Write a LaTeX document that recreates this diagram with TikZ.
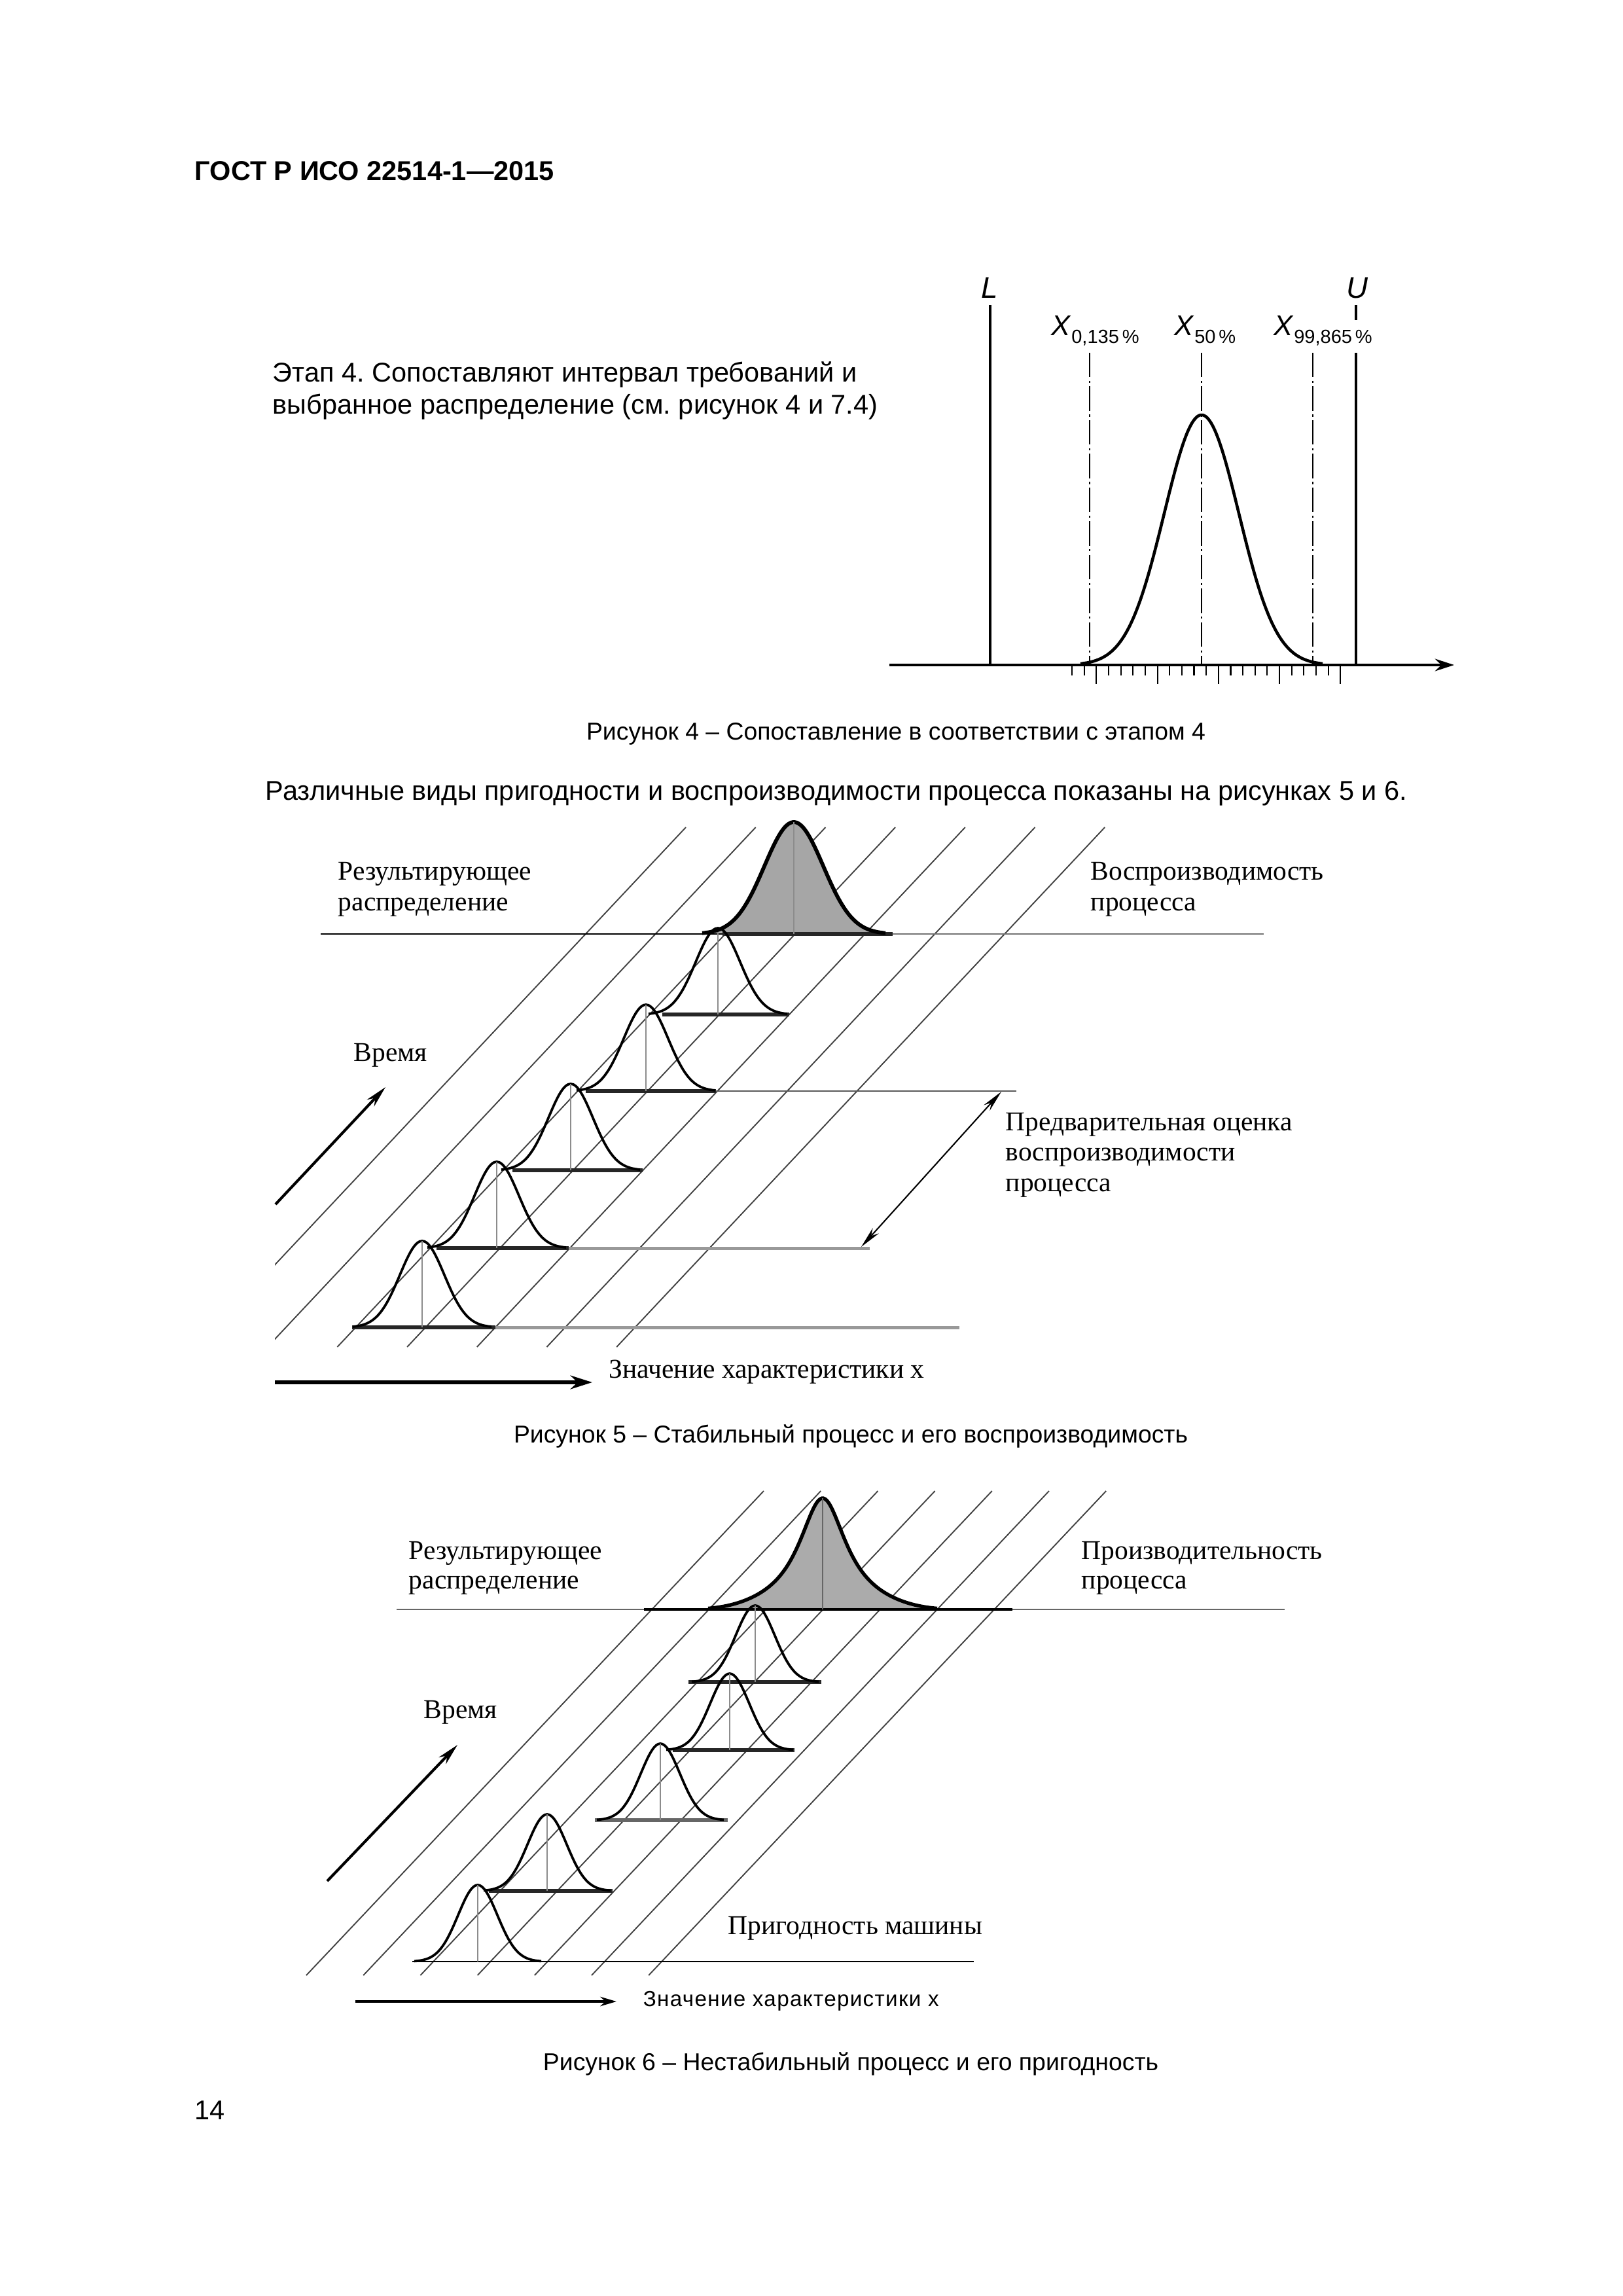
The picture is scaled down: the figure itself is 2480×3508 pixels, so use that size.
\documentclass[tikz,border=0pt]{standalone}
\usepackage{fontspec}
\setmainfont{Liberation Sans}
\newfontfamily\figserif{Liberation Serif}
\newfontfamily\spacedsans[LetterSpace=4]{Liberation Sans}
\usetikzlibrary{arrows.meta}
\frenchspacing
\begin{document}
\begin{tikzpicture}[x=0.0846667mm, y=-0.0846667mm,
  txt/.style={inner sep=0pt, anchor=base west},
  ctxt/.style={inner sep=0pt, anchor=base},
  sertxt/.style={inner sep=0pt, anchor=base west, font=\figserif\fontsize{10}{11}\selectfont},
  diag/.style={line width=0.45pt, black!75},
  basel/.style={line width=1.4pt, black!85},
  bellc/.style={line width=0.9pt, black},
  cline/.style={line width=0.45pt, black!45},
  thickl/.style={line width=1.1pt, black},
  dashdotl/.style={line width=0.4pt, black, dash pattern=on 9pt off 1.3pt on 0.8pt off 1.3pt},
  tarrow/.style={line width=1pt, -{Stealth[length=8pt,width=3.6pt]}},
]
\useasboundingbox (0,0) rectangle (2480,3508);
\fill[white] (0,0) rectangle (2480,3508);

% ---------- page texts ----------
\node[txt, font=\bfseries\fontsize{10}{12}\selectfont] (hdr) at (297,275) {ГОСТ Р ИСО 22514-1—2015};
\node[txt, font=\fontsize{10}{12}\selectfont] (st1) at (416,583) {Этап 4. Сопоставляют интервал требований и};
\node[txt, font=\fontsize{10}{12}\selectfont] (st2) at (416,632) {выбранное распределение (см. рисунок 4 и 7.4)};
\node[ctxt, font=\fontsize{9}{11}\selectfont] (cap4) at (1369,1130) {Рисунок 4 – Сопоставление в соответствии с этапом 4};
\node[txt, font=\fontsize{10}{12}\selectfont] (para) at (405,1222) {Различные виды пригодности и воспроизводимости процесса показаны на рисунках 5 и 6.};
\node[ctxt, font=\fontsize{9}{11}\selectfont] (cap5) at (1300,2204) {Рисунок 5 – Стабильный процесс и его воспроизводимость};
\node[ctxt, font=\fontsize{9}{11}\selectfont] (cap6) at (1300,3163) {Рисунок 6 – Нестабильный процесс и его пригодность};
\node[txt, font=\fontsize{10}{12}\selectfont] (pgn) at (297,3238) {14};

% ---------- Figure 4 ----------
\coordinate (ax0) at (1359,1016);
\coordinate (ax1) at (2222,1016);
\draw[line width=1.1pt, -{Stealth[length=7pt,width=4.5pt]}] (ax0) -- (ax1);
\draw[thickl] (1513,466) -- (1513,1016);
\draw[thickl] (2072,466) -- (2072,489);
\draw[thickl] (2072,539) -- (2072,1016);
\foreach \xx in {1665,1836,2006} \draw[dashdotl] (\xx,539) -- (\xx,1016);
\foreach \k in {0,...,22} {
  \pgfmathsetmacro\tx{1638+18.65*\k}
  \pgfmathsetmacro\tl{(mod(\k,5)==2) ? 1045 : 1032}
  \draw[line width=0.5pt] (\tx,1018) -- (\tx,\tl);
}
\draw[line width=1.1pt] plot[domain=1651:2021, samples=90, smooth] (\x, {1016-382*exp(-0.5*((\x-1836)/57)^2)});
\node[txt, font=\itshape\fontsize{11}{12}\selectfont] (lL) at (1499,455) {L};
\node[txt, font=\itshape\fontsize{11}{12}\selectfont] (lU) at (2057,455) {U};
\node[txt, font=\fontsize{10.5}{12}\selectfont] (x1) at (1606,512) {\textit{X}\raisebox{-2.9pt}{\fontsize{7}{8}\selectfont 0,135\,\%}};
\node[txt, font=\fontsize{10.5}{12}\selectfont] (x2) at (1794,512) {\textit{X}\raisebox{-2.9pt}{\fontsize{7}{8}\selectfont 50\,\%}};
\node[txt, font=\fontsize{10.5}{12}\selectfont] (x3) at (1946,512) {\textit{X}\raisebox{-2.9pt}{\fontsize{7}{8}\selectfont 99,865\,\%}};

% ---------- Figure 5 ----------
\begin{scope}
  \clip (420,1200) rectangle (2200,2100);
  \foreach \k in {0,...,6} {
    \pgfmathsetmacro\xt{1048+106.7*\k}
    \draw[diag] (\xt,1264) -- (\xt-746,2058);
  }
\end{scope}
\fill[black!35] plot[domain=1073:1353, samples=90, smooth] (\x, {1427-171*exp(-0.5*((\x-1213)/45)^2)}) -- cycle;
% horizontal levels
\draw[line width=0.7pt] (490,1427) -- (1364,1427);
\draw[line width=0.7pt, black!55] (1364,1427) -- (1931,1427);
\draw[basel] (1104,1427) -- (1364,1427);
\draw[basel] (1012,1550) -- (1206,1550);
\draw[line width=0.7pt, black!65] (1094,1667) -- (1553,1667);
\draw[basel] (895,1667) -- (1094,1667);
\draw[basel] (783,1788) -- (982,1788);
\draw[line width=1.2pt, black!40] (869,1907) -- (1329,1907);
\draw[basel] (667,1907) -- (869,1907);
\draw[line width=1.2pt, black!40] (757,2028) -- (1466,2028);
\draw[basel] (538,2028) -- (757,2028);
% bells
\foreach \m/\b in {645/2028, 759/1907, 872/1788, 987/1667, 1097/1550} {
  \pgfmathsetmacro\lo{\m-106}
  \pgfmathsetmacro\hi{\m+106}
  \draw[bellc] plot[domain=\lo:\hi, samples=61, smooth] (\x, {\b-132*exp(-0.5*((\x-\m)/34)^2)});
  \draw[cline] (\m,\b-132) -- (\m,\b);
}
\draw[line width=1.4pt] plot[domain=1073:1353, samples=90, smooth] (\x, {1427-171*exp(-0.5*((\x-1213)/45)^2)});
\draw[cline] (1213,1256) -- (1213,1427);
% arrows
\coordinate (t5a) at (421,1840);
\coordinate (t5b) at (589,1661);
\draw[tarrow] (t5a) -- (t5b);
\coordinate (v5a) at (420,2112);
\coordinate (v5b) at (905,2112);
\draw[line width=1.4pt, -{Stealth[length=8pt,width=5pt]}] (v5a) -- (v5b);
\coordinate (d5a) at (1530,1668);
\coordinate (d5b) at (1316,1905);
\draw[line width=0.5pt, {Stealth[length=8pt,width=3pt]}-{Stealth[length=8pt,width=3pt]}] (d5a) -- (d5b);
% labels
\node[sertxt] (r5a) at (516,1344) {Результирующее};
\node[sertxt] (r5b) at (516,1391) {распределение};
\node[sertxt] (v5t1) at (1666,1344) {Воспроизводимость};
\node[sertxt] (v5t2) at (1666,1391) {процесса};
\node[sertxt] (time5) at (540,1621) {Время};
\node[sertxt] (p5a) at (1536,1727) {Предварительная оценка};
\node[sertxt] (p5b) at (1536,1773) {воспроизводимости};
\node[sertxt] (p5c) at (1536,1820) {процесса};
\node[sertxt] (z5) at (930,2105) {Значение характеристики x};

% ---------- Figure 6 ----------
\foreach \k in {0,...,6} {
  \pgfmathsetmacro\xt{1167+87.2*\k}
  \draw[diag] (\xt,2278) -- (\xt-699,3018);
}
\fill[black!33] plot[domain=1082:1432, samples=140, smooth] (\x, {2459-170/(1+((\x-1257)/44)^2)*exp(-((\x-1257)/150)^4)}) -- cycle;
\draw[line width=0.7pt, black!60] (606,2459) -- (1963,2459);
\draw[line width=1pt, black] (984,2459) -- (1547,2459);
\draw[basel] (1052,2570) -- (1255,2570);
\draw[basel] (1028,2674) -- (1214,2674);
\draw[basel, black!60] (909,2781) -- (1112,2781);
\draw[basel] (747,2889) -- (936,2889);
\draw[line width=0.7pt] (630,2997) -- (1488,2997);
\foreach \m/\b in {730/2997, 836/2889, 1009/2781, 1115/2674, 1154/2570} {
  \pgfmathsetmacro\lo{\m-97}
  \pgfmathsetmacro\hi{\m+97}
  \draw[bellc] plot[domain=\lo:\hi, samples=61, smooth] (\x, {\b-117*exp(-0.5*((\x-\m)/30)^2)});
  \draw[cline] (\m,\b-117) -- (\m,\b);
}
\draw[line width=1.3pt] plot[domain=1082:1432, samples=140, smooth] (\x, {2459-170/(1+((\x-1257)/44)^2)*exp(-((\x-1257)/150)^4)});
\draw[line width=0.5pt, black!60] (1257,2289) -- (1257,2459);
\coordinate (t6a) at (500,2874);
\coordinate (t6b) at (699,2666);
\draw[tarrow] (t6a) -- (t6b);
\coordinate (v6a) at (543,3058);
\coordinate (v6b) at (942,3058);
\draw[line width=0.8pt, -{Stealth[length=6pt,width=3.5pt]}] (v6a) -- (v6b);
\node[sertxt] (r6a) at (624,2382) {Результирующее};
\node[sertxt] (r6b) at (624,2427) {распределение};
\node[sertxt] (p6a) at (1652,2382) {Производительность};
\node[sertxt] (p6b) at (1652,2427) {процесса};
\node[sertxt] (time6) at (647,2625) {Время};
\node[sertxt] (m6) at (1112,2955) {Пригодность машины};
\node[txt, font=\spacedsans\fontsize{8}{9}\selectfont] (z6) at (982,3065) {Значение характеристики x};
\end{tikzpicture}
\end{document}
